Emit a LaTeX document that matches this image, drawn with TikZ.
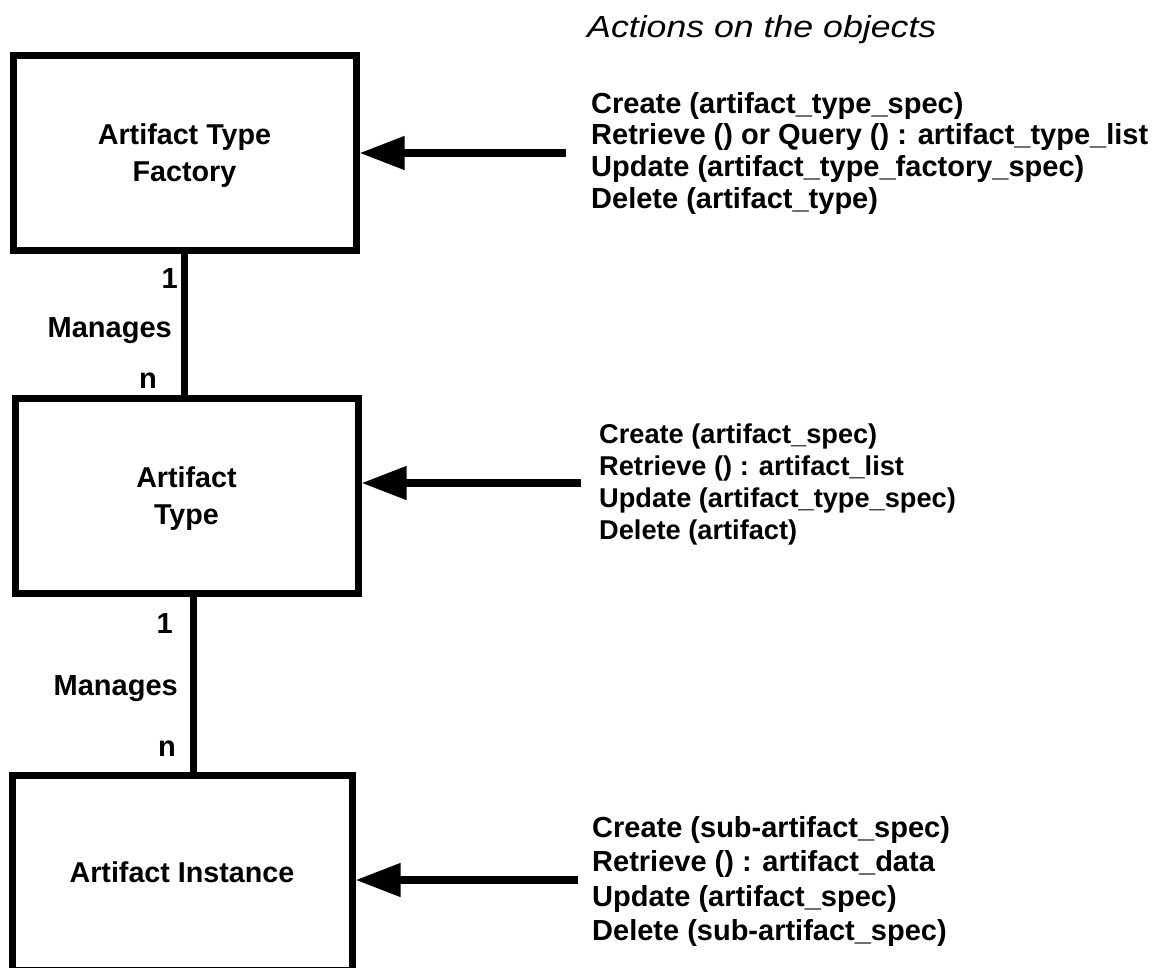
\documentclass[tikz,border=0pt]{standalone}
\usepackage{fontspec}
\usepackage{graphicx}
\setmainfont{Liberation Sans}
\usetikzlibrary{arrows.meta}

% Object boxes, links between them, and the operation arrows
\tikzset{
  objbox/.style={draw, line width=7pt, inner sep=0pt, minimum height=195pt},
  objname/.style={inner sep=0pt, align=center,
    font=\fontsize{28.7}{37}\selectfont\bfseries},
  link/.style={line width=7pt},
  action/.style={line width=7.5pt, -{Triangle[length=45pt,width=32pt]}},
  mult/.style={inner sep=0pt, anchor=base east,
    font=\fontsize{29}{34}\selectfont\bfseries},
  ops/.style={inner sep=0pt, anchor=base west},
}

\newcommand{\oplist}[3]{%
  {\fontsize{#1}{#2}\selectfont\bfseries\vtop{\baselineskip=#2pt #3}}}

\begin{document}
\begin{tikzpicture}[x=1pt, y=-1pt]
  \clip (0,0) rectangle (1155,967);

  % heading over the operation lists
  \node[ops] (title) at (587,37)
    {\scalebox{1.17}[1]{\fontsize{30.5}{36}\selectfont\itshape Actions on the objects}};

  % objects
  \node[objbox, minimum width=343pt] (b1) at (184.5,152.5) {};
  \node[objbox, minimum width=343pt] (b2) at (186.5,495.5) {};
  \node[objbox, minimum width=340pt] (b3) at (182,872.5) {};
  \node[objname] (t1) at ([yshift=-3.5pt]b1.center) {Artifact Type\\Factory};
  \node[objname] (t2) at ([yshift=-3.5pt]b2.center) {Artifact\\Type};
  \node[objname] (t3) at (b3.center) {Artifact Instance};

  % relationships
  \draw[link] (b1.south) -- (b1.south |- b2.north);
  \draw[link] ([xshift=6.5pt]b2.south) -- ([xshift=6.5pt]b2.south |- b3.north);

  \node[mult] (one1) at (178,288) {1};
  \node[mult] (man1) at (172,337) {Manages};
  \node[mult] (n1) at (157,388) {n};

  \node[mult] (one2) at (173,633) {1};
  \node[mult] (man2) at (178,695) {Manages};
  \node[mult] (n2) at (176,756) {n};

  % operation arrows
  \coordinate (a1) at (566,153);
  \coordinate (a2) at (581,483);
  \coordinate (a3) at (578,880);
  \draw[action] (a1) -- (a1 -| b1.east);
  \draw[action] (a2) -- (a2 -| b2.east);
  \draw[action] (a3) -- (a3 -| b3.east);

  % operation lists
  \node[ops] (ops1) at (591,113) {\oplist{29}{31.7}{%
    \hbox{Create (artifact\_type\_spec)}
    \hbox{Retrieve () or Query () : artifact\_type\_list}
    \hbox{Update (artifact\_type\_factory\_spec)}
    \hbox{Delete (artifact\_type)}}};
  \node[ops] (ops2) at (599,443) {\oplist{27.2}{32.3}{%
    \hbox{Create (artifact\_spec)}
    \hbox{Retrieve () : artifact\_list}
    \hbox{Update (artifact\_type\_spec)}
    \hbox{Delete (artifact)}}};
  \node[ops] (ops3) at (592,837) {\oplist{29}{34.5}{%
    \hbox{Create (sub-artifact\_spec)}
    \hbox{Retrieve () : artifact\_data}
    \hbox{Update (artifact\_spec)}
    \hbox{Delete (sub-artifact\_spec)}}};
\end{tikzpicture}
\end{document}
